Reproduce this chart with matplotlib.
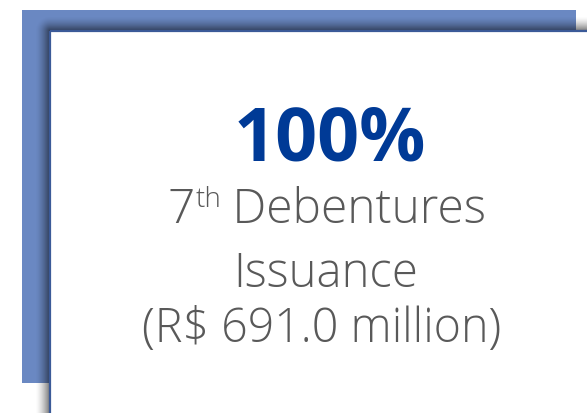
import matplotlib
matplotlib.use("Agg")
import matplotlib.pyplot as plt
from matplotlib.patches import Rectangle
import numpy as np

# content
headline = "100%"
ordinal_num = "7"
ordinal_suffix = "th"
line1_rest = " Debentures"
lines_below = ["Issuance", "(R$ 691.0 million)"]

W, H = 587, 414
fig = plt.figure(figsize=(W / 100, H / 100), dpi=100)
ax = fig.add_axes([0, 0, 1, 1])
ax.set_xlim(0, W)
ax.set_ylim(H, 0)
ax.axis("off")

# blue backing panel
ax.add_patch(Rectangle((22, 11), 554, 373, facecolor="#6A88C2", edgecolor="none", zorder=1))

# soft shadow of the white card (falls up and to the left)
cx, cy = 50, 32
xs = np.arange(W) + 0.5
ys = np.arange(H) + 0.5
X, Y = np.meshgrid(xs, ys)
dx = np.clip(cx - X, 0, None)
dy = np.clip(cy - Y, 0, None)
d = np.hypot(dx, dy)
alpha = np.clip(1 - d / 15, 0, 1) ** 1.6 * 0.55
img = np.zeros((H, W, 4))
img[..., 3] = alpha
ax.imshow(img, extent=(0, W, H, 0), zorder=2, interpolation="bilinear")

# white card with dark blue edge
ax.add_patch(Rectangle((cx, cy), W, H, facecolor="white", edgecolor="none", zorder=3))
ax.plot([cx, cx], [cy, H], color="#3B5A98", lw=1.6, zorder=4, solid_capstyle="butt")
ax.plot([cx, W], [cy, cy], color="#3B5A98", lw=1.6, zorder=4, solid_capstyle="butt")

gray = "#595959"
light = dict(family=["Open Sans", "DejaVu Sans"], weight="light", color=gray)

ax.text(330, 161, headline, ha="center", va="baseline", fontsize=53,
        fontweight="bold", color="#003A96", family=["Open Sans", "DejaVu Sans"], zorder=5)

# first line with superscript ordinal
r = fig.canvas.get_renderer()
t1 = ax.text(0, 223, ordinal_num, ha="left", va="baseline", fontsize=34.5, zorder=5, **light)
t2 = ax.text(0, 207, ordinal_suffix, ha="left", va="baseline", fontsize=20, zorder=5, **light)
t3 = ax.text(0, 223, line1_rest, ha="left", va="baseline", fontsize=34.5, zorder=5, **light)
w1 = t1.get_window_extent(r).width
w2 = t2.get_window_extent(r).width
w3 = t3.get_window_extent(r).width
x0 = 326.5 - (w1 + w2 + w3) / 2
t1.set_x(x0)
t2.set_x(x0 + w1 + 1)
t3.set_x(x0 + w1 + w2)

for txt, yb, xc, fs in zip(lines_below, [287, 342], [326, 322], [34, 33.5]):
    ax.text(xc, yb, txt, ha="center", va="baseline", fontsize=fs, zorder=5, **light)

fig.savefig("out.png", dpi=100)
